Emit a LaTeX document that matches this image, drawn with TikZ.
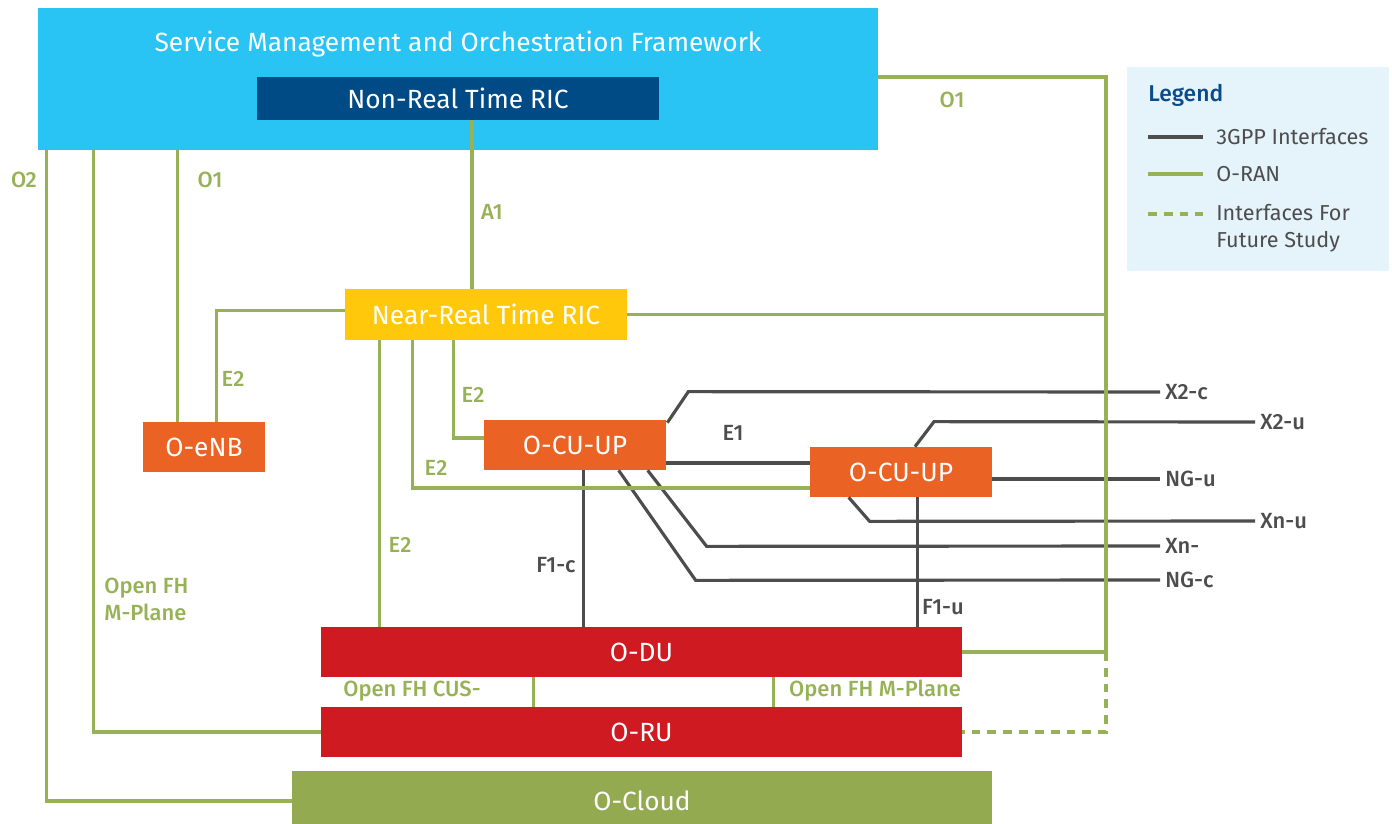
\documentclass[tikz,border=0pt]{standalone}
\usepackage{fontspec}
\setmainfont{Fira Sans}[BoldFont={Fira Sans Medium}]
\usetikzlibrary{calc}

\definecolor{smoblue}{RGB}{41,196,243}
\definecolor{nrtblue}{RGB}{0,74,134}
\definecolor{ricyellow}{RGB}{255,200,10}
\definecolor{onorange}{RGB}{234,98,36}
\definecolor{onred}{RGB}{206,26,32}
\definecolor{cloudgreen}{RGB}{148,170,80}
\definecolor{lgreen}{RGB}{151,178,86}
\definecolor{dgray}{RGB}{77,77,77}
\definecolor{legbg}{RGB}{229,243,251}
\definecolor{legblue}{RGB}{10,75,140}

\newcommand{\boxfont}{\fontsize{15}{18}\selectfont}
\newcommand{\lblfont}{\fontsize{12.5}{15}\selectfont\bfseries}
\newcommand{\legfont}{\fontsize{12.3}{15.3}\selectfont}

\begin{document}
\begin{tikzpicture}[x=0.02cm, y=-0.02cm,
  sz/.style 2 args={minimum width=#1*0.02cm, minimum height=#2*0.02cm},
  blk/.style={rectangle, inner sep=0pt, text=white, font=\boxfont},
  oran/.style={draw=lgreen, line width=1.8pt},
  tgpp/.style={draw=dgray, line width=1.8pt},
  fdash/.style={dash pattern=on 5pt off 4pt},
  lbl/.style={text=lgreen, font=\lblfont, inner sep=0pt},
  glbl/.style={text=dgray, font=\lblfont, inner sep=0pt},
  rlbl/.style={text=dgray, font=\lblfont, inner sep=0.1cm, anchor=west},
  leg/.style={text=dgray, font=\legfont, inner sep=0pt, anchor=west}]
\useasboundingbox (0,0) rectangle (1392,824);

% boxes
\node[blk, fill=smoblue, sz={840}{142}] (SMO) at (458,79) {};
\node[text=white, font=\boxfont, inner sep=0pt] (SMOt) at (458,44) {Service Management and Orchestration Framework};
\node[blk, fill=nrtblue, sz={402}{43}] (NRT) at (458,98.5) {Non-Real Time RIC};
\node[blk, fill=ricyellow, sz={282}{51}] (RIC) at (486,314.5) {Near-Real Time RIC};
\node[blk, fill=onorange, sz={122}{50}] (ENB) at (204,447) {O-eNB};
\node[blk, fill=onorange, sz={182}{50}] (CUA) at (575,445) {O-CU-UP};
\node[blk, fill=onorange, sz={182}{50}] (CUB) at (901,472) {O-CU-UP};
\node[blk, fill=onred, sz={641}{50}] (DU) at (641.5,652) {O-DU};
\node[blk, fill=onred, sz={641}{50}] (RU) at (641.5,732) {O-RU};
\node[blk, fill=cloudgreen, sz={700}{60}] (CLOUD) at (642,801) {O-Cloud};

% legend
\node[fill=legbg, sz={262}{204}, inner sep=0pt] (LEG) at (1258,169) {};
\node[anchor=west, text=legblue, font=\fontsize{13}{15}\selectfont\bfseries, inner sep=0pt] (LEGt) at (1148,95) {Legend};
\node[leg] (L1) at (1216,137) {3GPP Interfaces};
\node[leg] (L2) at (1216,174) {O-RAN};
\node[leg, anchor=north west, align=left] (L3) at (1216,204) {Interfaces For\\Future Study};
\draw[tgpp] ($(L1.west)+(-68,0)$) -- ++(55,0);
\draw[oran] ($(L2.west)+(-68,0)$) -- ++(55,0);
\draw[oran, fdash] ($(L3.north west)+(-68,10)$) -- ++(55,0);

% 3GPP labels
\node[rlbl] (X2c) at (1160,392) {X2-c};
\node[rlbl] (X2u) at (1255,422) {X2-u};
\node[rlbl] (NGu) at (1160,479) {NG-u};
\node[rlbl] (Xnu) at (1255,521) {Xn-u};
\node[rlbl] (Xn) at (1160,546) {Xn-};
\node[rlbl] (NGc) at (1160,580) {NG-c};
\node[glbl] (E1) at (733,433) {E1};
\node[glbl] (F1c) at (556,565) {F1-c};
\node[glbl] (F1u) at (943,607) {F1-u};

% 3GPP interfaces
\draw[tgpp] ($(CUA.north east)+(1,3)$) -- ($(CUA.north east)+(22,-28)$) -- (X2c.west);
\draw[tgpp] ($(CUB.north)+(14,0)$) -- ($(CUB.north)+(33,-25)$) -- (X2u.west);
\draw[tgpp] ($(CUB.east)+(0,7)$) -- (NGu.west);
\draw[tgpp] ($(CUB.south west)+(39,0)$) -- ++(21,24) -- (Xnu.west);
\draw[tgpp] ($(CUA.south west)+(164,0)$) -- ++(59,76) -- (Xn.west);
\draw[tgpp] ($(CUA.south west)+(135,0)$) -- ++(77,110) -- (NGc.west);
\draw[tgpp] ($(CUA.east)+(0,18)$) coordinate (e1) -- (e1 -| CUB.west);
\draw[tgpp] ($(CUA.south west)+(100,0)$) coordinate (f1c) -- (f1c |- DU.north);
\draw[tgpp] ($(CUB.south west)+(108,0)$) coordinate (f1u) -- (f1u |- DU.north);

% O-RAN labels
\node[lbl] (O1a) at (952,100) {O1};
\node[lbl] (O1b) at (210,180) {O1};
\node[lbl] (O2) at (24,180) {O2};
\node[lbl] (A1) at (492,212) {A1};
\node[lbl] (E2a) at (233,379) {E2};
\node[lbl] (E2b) at (473,395) {E2};
\node[lbl] (E2c) at (436,468) {E2};
\node[lbl] (E2d) at (400,545) {E2};
\node[lbl, anchor=north west, align=left] (FHa) at (104,578) {Open FH\\M-Plane};
\node[lbl] (FHb) at (412,691) {Open FH CUS-};
\node[lbl] (FHc) at (875,691) {Open FH M-Plane};

% O-RAN interfaces
\coordinate (O1R) at (1106,77);
\draw[oran] (SMO.east |- O1R) -- (O1R) |- (DU.east);
\draw[oran, fdash] (DU.east -| O1R) |- (RU.east);
\draw[oran] (RIC.east) -- (RIC.east -| O1R);
\draw[oran] ($(RIC.north)+(-14,0)$) coordinate (a1) -- (a1 |- NRT.south);
\draw[oran] ($(SMO.south west)+(9,0)$) |- (CLOUD.west);
\draw[oran] ($(SMO.south west)+(56,0)$) |- (RU.west);
\draw[oran] ($(ENB.north west)+(35,0)$) coordinate (o1e) -- (o1e |- SMO.south);
\draw[oran] ($(RIC.west)+(0,-4)$) -| ($(ENB.north east)+(-49,0)$);
\draw[oran] ($(RIC.south west)+(35,0)$) coordinate (e2d) -- (e2d |- DU.north);
\draw[oran] ($(RIC.south west)+(68,0)$) |- ($(CUB.west)+(0,16)$);
\draw[oran] ($(RIC.south west)+(109,0)$) |- ($(CUA.west)+(0,-7)$);
\draw[oran] ($(DU.south west)+(213,0)$) coordinate (fh1) -- (fh1 |- RU.north);
\draw[oran] ($(DU.south west)+(453,0)$) coordinate (fh2) -- (fh2 |- RU.north);
\end{tikzpicture}
\end{document}
